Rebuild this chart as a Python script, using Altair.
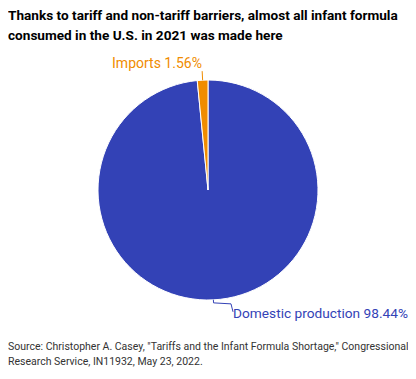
import altair as alt
import numpy as np
import pandas as pd

categories = ["Domestic production", "Imports"]
shares = [98.44, 1.56]
colors = ["#3342b6", "#f08c00"]
title_lines = ["Thanks to tariff and non-tariff barriers, almost all infant formula",
               "consumed in the U.S. in 2021 was made here"]
source_lines = ['Source: Christopher A. Casey, "Tariffs and the Infant Formula Shortage," Congressional',
                'Research Service, IN11932, May 23, 2022.']

FONT = "Roboto, sans-serif"
W, H = 400, 276
R = 110

df = pd.DataFrame({
    "category": categories,
    "share": shares,
    "order": [0, 1],
})
df["label"] = [f"{c} {s:.2f}%" for c, s in zip(categories, shares)]
df["lab_dom"] = [df["label"][0], ""]
df["lab_imp"] = ["", df["label"][1]]

# leader lines derived from slice mid-angles
cum = np.cumsum([0] + shares[:-1])
mid = [(c + s / 2) / 100 * 2 * np.pi for c, s in zip(cum, shares)]
rows = []
a = mid[0]
pts = [(R * np.sin(a), R * np.cos(a)), ((R + 3) * np.sin(a), (R + 3) * np.cos(a)),
       (23, (R + 4) * np.cos(a)), (25, (R + 12) * np.cos(a))]
for i, (x, y) in enumerate(pts):
    rows.append({"category": categories[0], "i": i, "x": x, "y": y})
a = mid[1]
pts = [(R * np.sin(a), R * np.cos(a)), ((R + 9) * np.sin(a), (R + 9) * np.cos(a))]
for i, (x, y) in enumerate(pts):
    rows.append({"category": categories[1], "i": i, "x": x, "y": y})
lines_df = pd.DataFrame(rows)

color = alt.Color("category:N", scale=alt.Scale(domain=categories, range=colors), legend=None)
theta = alt.Theta("share:Q", stack=True)
order = alt.Order("order:Q")

base = alt.Chart(df)
pie = base.mark_arc(outerRadius=R, stroke="white", strokeWidth=1).encode(
    theta=theta, color=color, order=order)

txt_dom = base.mark_text(radius=124, align="left", baseline="middle", dx=19,
                         font=FONT, fontSize=13.7).encode(
    theta=theta, order=order, text="lab_dom:N", color=color)
txt_imp = base.mark_text(radius=124, align="right", baseline="middle", dx=0, dy=-2,
                         font=FONT, fontSize=14).encode(
    theta=theta, order=order, text="lab_imp:N", color=color)

leaders = alt.Chart(lines_df).mark_line(strokeWidth=1).encode(
    x=alt.X("x:Q", scale=alt.Scale(domain=[-W / 2, W / 2], nice=False, zero=False), axis=None),
    y=alt.Y("y:Q", scale=alt.Scale(domain=[-H / 2, H / 2], nice=False, zero=False), axis=None),
    detail="category:N", order="i:Q", color=color)

src = alt.Chart(pd.DataFrame({"t": ["\n".join(source_lines)]})).mark_text(
    align="left", baseline="top", lineBreak="\n", font=FONT, fontSize=10.5,
    lineHeight=15, color="#333333").encode(
    x=alt.value(0), y=alt.value(H + 14), text="t:N")

chart = alt.layer(pie, leaders, txt_dom, txt_imp, src).properties(
    width=W, height=H,
    autosize=alt.AutoSizeParams(type="none"),
    padding={"left": 0, "top": 44, "right": 0, "bottom": 43},
    title=alt.TitleParams(title_lines, anchor="start", font=FONT, fontSize=13.6,
                          fontWeight="bold", lineHeight=20, color="#000000", offset=9),
).configure_view(stroke=None)

chart.save("out.html", embed_options={"renderer": "svg", "actions": False})
